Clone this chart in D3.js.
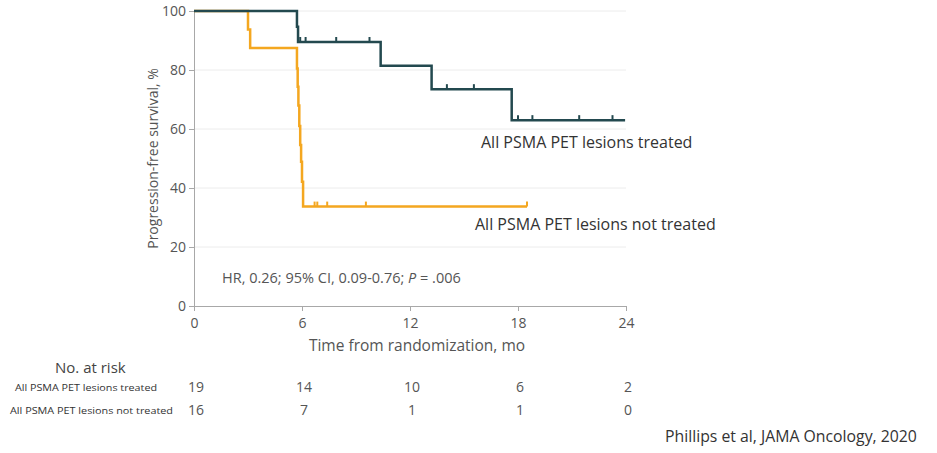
<!DOCTYPE html>
<html>
<head>
<meta charset="utf-8">
<script src="https://cdn.jsdelivr.net/npm/d3@7"></script>
<style>
  body { margin: 0; background: #fff; }
  text { font-family: "Open Sans", "Noto Sans", sans-serif; }
</style>
</head>
<body>
<div id="chart-area"></div>
<script>
// Kaplan-Meier curves
var treatedTimes = [0, 5.72, 5.78, 10.37, 13.2, 17.65, 23.95];
var treatedSurv  = [100, 94.7, 89.5, 81.4, 73.5, 63.0, 63.0];
var treatedCensor = [5.9, 6.2, 7.9, 9.75, 14.05, 15.55, 18.0, 18.8, 21.4, 23.25];

var notTreatedTimes = [0, 3.0, 3.12, 5.72, 5.76, 5.8, 5.85, 5.9, 5.95, 6.0, 6.06, 18.5];
var notTreatedSurv  = [100, 93.75, 87.5, 80.5, 74.3, 68.0, 61.0, 54.6, 48.9, 42.1, 33.7, 33.7];
var notTreatedCensor = [6.7, 6.85, 7.4, 9.55, 18.5];

var xTicks = [0, 6, 12, 18, 24];
var yTicks = [0, 20, 40, 60, 80, 100];

var riskLabels = ["All PSMA PET lesions treated", "All PSMA PET lesions not treated"];
var riskTreated = [19, 14, 10, 6, 2];
var riskNotTreated = [16, 7, 1, 1, 0];

var colors = { treated: "#23494f", notTreated: "#f4a720" };

var width = 937, height = 453;
var svg = d3.select("#chart-area").append("svg")
    .attr("width", width)
    .attr("height", height);

var x = d3.scaleLinear().domain([0, 24]).range([194, 626]);
var y = d3.scaleLinear().domain([0, 100]).range([306, 11]);

// gridlines
svg.append("g").selectAll("line")
    .data(yTicks.slice(1))
    .enter().append("line")
    .attr("x1", x(0)).attr("x2", x(24))
    .attr("y1", (d) => y(d)).attr("y2", (d) => y(d))
    .attr("stroke", "#ececec")
    .attr("stroke-width", 1);

// axes
var axisColor = "#a8a8a8";
var xAxisGroup = svg.append("g")
    .attr("transform", "translate(0," + y(0) + ")")
    .call(d3.axisBottom(x).tickValues(xTicks).tickSize(5).tickSizeOuter(0));
xAxisGroup.selectAll(".domain, .tick line").attr("stroke", axisColor);
xAxisGroup.selectAll(".tick text")
    .attr("fill", "#555").attr("dy", "1em")
    .style("font-size", "14px");

var yAxisGroup = svg.append("g")
    .attr("transform", "translate(" + x(0) + ",0)")
    .call(d3.axisLeft(y).tickValues(yTicks).tickSize(5).tickSizeOuter(0));
yAxisGroup.selectAll(".domain, .tick line").attr("stroke", axisColor);
yAxisGroup.selectAll(".tick text")
    .attr("fill", "#555").attr("x", -8)
    .style("font-size", "14px");

svg.append("text")
    .attr("x", 417).attr("y", 351)
    .attr("text-anchor", "middle")
    .attr("fill", "#555")
    .style("font-size", "15.5px")
    .text("Time from randomization, mo");

svg.append("text")
    .attr("transform", "translate(158," + y(50) + ") rotate(-90)")
    .attr("text-anchor", "middle")
    .attr("fill", "#555")
    .style("font-size", "14px")
    .text("Progression-free survival, %");

// curves
var line = d3.line()
    .x((d) => x(d[0]))
    .y((d) => y(d[1]))
    .curve(d3.curveStepAfter);

function drawCurve(times, surv, censor, color, w) {
    var pts = times.map((t, i) => [t, surv[i]]);
    svg.append("path")
        .attr("d", line(pts))
        .attr("fill", "none")
        .attr("stroke", color)
        .attr("stroke-width", w);
    // survival at a censor time
    var at = (t) => {
        var s = surv[0];
        times.forEach((tt, i) => { if (tt <= t) s = surv[i]; });
        return s;
    };
    svg.append("g").selectAll("line")
        .data(censor)
        .enter().append("line")
        .attr("x1", (d) => x(d)).attr("x2", (d) => x(d))
        .attr("y1", (d) => y(at(d))).attr("y2", (d) => y(at(d)) - 5)
        .attr("stroke", color)
        .attr("stroke-width", 2);
}

drawCurve(notTreatedTimes, notTreatedSurv, notTreatedCensor, colors.notTreated, 2.5);
drawCurve(treatedTimes, treatedSurv, treatedCensor, colors.treated, 2.5);

// curve labels
svg.append("text")
    .attr("x", 481).attr("y", 148)
    .attr("fill", "#333")
    .style("font-size", "16px")
    .text("All PSMA PET lesions treated");

svg.append("text")
    .attr("x", 475).attr("y", 230)
    .attr("fill", "#333")
    .style("font-size", "16px")
    .text("All PSMA PET lesions not treated");

// hazard ratio
var hr = svg.append("text")
    .attr("x", 222).attr("y", 283)
    .attr("fill", "#555")
    .style("font-size", "14.5px");
hr.append("tspan").text("HR, 0.26; 95% CI, 0.09-0.76; ");
hr.append("tspan").style("font-style", "italic").text("P");
hr.append("tspan").text(" = .006");

// number at risk table
svg.append("text")
    .attr("x", 55).attr("y", 373)
    .attr("fill", "#444")
    .style("font-size", "15px")
    .text("No. at risk");

var rows = [riskTreated, riskNotTreated];
var rowY = [392, 415];
var labelX = [15, 10];
var labelLen = [142, 163];
rows.forEach((vals, i) => {
    svg.append("text")
        .attr("x", labelX[i]).attr("y", rowY[i] - 1)
        .attr("fill", "#333")
        .attr("textLength", labelLen[i])
        .attr("lengthAdjust", "spacingAndGlyphs")
        .style("font-size", "9.5px")
        .text(riskLabels[i]);
    svg.append("g").selectAll("text")
        .data(vals)
        .enter().append("text")
        .attr("x", (d, j) => x(xTicks[j]) + 2)
        .attr("y", rowY[i])
        .attr("text-anchor", "middle")
        .attr("fill", "#555")
        .style("font-size", "14px")
        .text((d) => d);
});

// source
svg.append("text")
    .attr("x", 665).attr("y", 442)
    .attr("fill", "#333")
    .style("font-size", "15.8px")
    .text("Phillips et al, JAMA Oncology, 2020");
</script>
</body>
</html>
